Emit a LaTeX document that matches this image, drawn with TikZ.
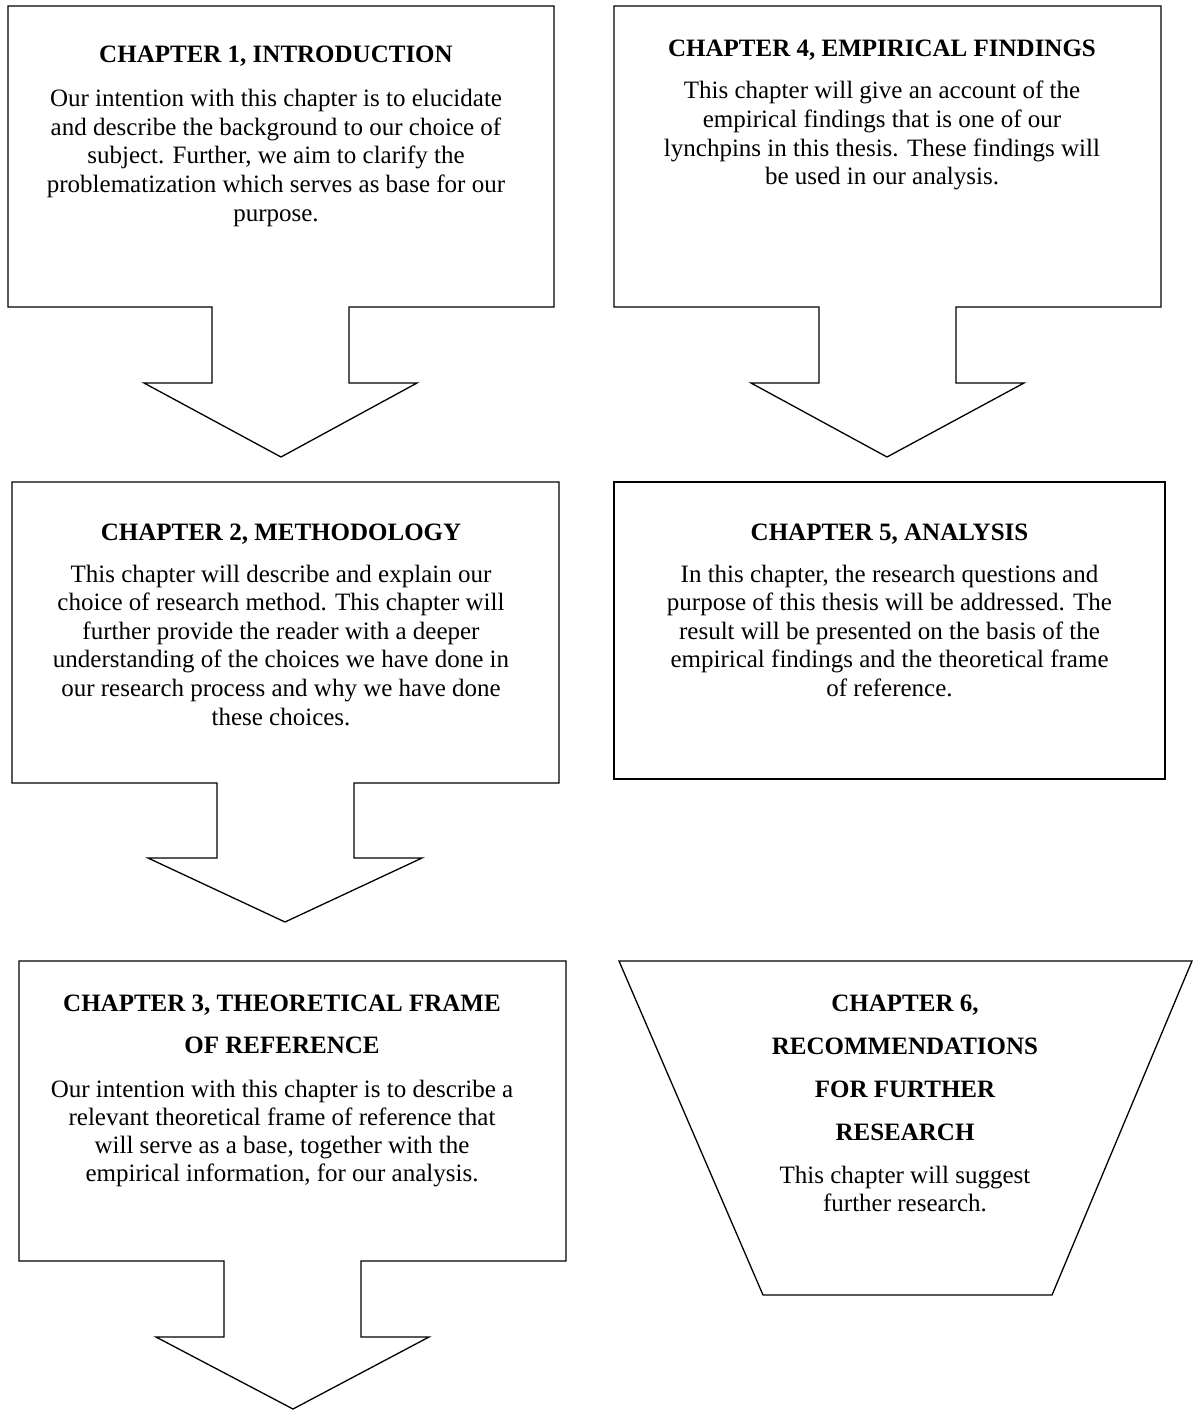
\documentclass[tikz,border=0pt]{standalone}
\usepackage{fontspec}
\setmainfont{Liberation Serif}
\begin{document}
\begin{tikzpicture}[x=1pt,y=-1pt,
  outline/.style={draw=black,line width=1.3pt,line join=miter},
  ttl/.style={anchor=base,inner sep=0pt,font=\fontsize{25}{30}\selectfont\bfseries},
  bdy/.style={anchor=base,inner sep=0pt,font=\fontsize{25}{30}\selectfont}]
\useasboundingbox (0,0) rectangle (1193,1410);

% Chapter 1 callout
\draw[outline] (8,6) -- (554,6) -- (554,307) -- (349,307) -- (349,383) -- (417,383)
  -- (281,457) -- (144,383) -- (212,383) -- (212,307) -- (8,307) -- cycle;
% Chapter 4 callout
\draw[outline] (614,6) -- (1161,6) -- (1161,307) -- (956,307) -- (956,383) -- (1024,383)
  -- (887,457) -- (751,383) -- (819,383) -- (819,307) -- (614,307) -- cycle;
% Chapter 2 callout
\draw[outline] (12,482) -- (559,482) -- (559,783) -- (354,783) -- (354,858) -- (422,858)
  -- (285,922) -- (148,858) -- (217,858) -- (217,783) -- (12,783) -- cycle;
% Chapter 5 box
\draw[outline] (614,482) rectangle (1165,779);
% Chapter 3 callout
\draw[outline] (19,961) -- (566,961) -- (566,1261) -- (361,1261) -- (361,1337) -- (429,1337)
  -- (293,1409) -- (156,1337) -- (224,1337) -- (224,1261) -- (19,1261) -- cycle;
% Chapter 6 trapezoid
\draw[outline] (619,961) -- (1192,961) -- (1052,1295) -- (763,1295) -- cycle;

% Chapter 1 text
\node[ttl] (t1) at (276,63) {CHAPTER 1, INTRODUCTION};
\foreach \txt [count=\i] in {{Our intention with this chapter is to elucidate},
  {and describe the background to our choice of},
  {subject. Further, we aim to clarify the},
  {problematization which serves as base for our},
  {purpose.}}
  \node[bdy] (b1-\i) at (276,{107+(\i-1)*28.5}) {\txt};

% Chapter 4 text
\node[ttl] (t4) at (882,57) {CHAPTER 4, EMPIRICAL FINDINGS};
\foreach \txt [count=\i] in {{This chapter will give an account of the},
  {empirical findings that is one of our},
  {lynchpins in this thesis. These findings will},
  {be used in our analysis.}}
  \node[bdy] (b4-\i) at (882,{98.5+(\i-1)*28.8}) {\txt};

% Chapter 2 text
\node[ttl] (t2) at (281,540) {CHAPTER 2, METHODOLOGY};
\foreach \txt [count=\i] in {{This chapter will describe and explain our},
  {choice of research method. This chapter will},
  {further provide the reader with a deeper},
  {understanding of the choices we have done in},
  {our research process and why we have done},
  {these choices.}}
  \node[bdy] (b2-\i) at (281,{582+(\i-1)*28.6}) {\txt};

% Chapter 5 text
\node[ttl] (t5) at (889.5,540) {CHAPTER 5, ANALYSIS};
\foreach \txt [count=\i] in {{In this chapter, the research questions and},
  {purpose of this thesis will be addressed. The},
  {result will be presented on the basis of the},
  {empirical findings and the theoretical frame},
  {of reference.}}
  \node[bdy] (b5-\i) at (889.5,{582+(\i-1)*28.6}) {\txt};

% Chapter 3 text
\foreach \txt [count=\i] in {{CHAPTER 3, THEORETICAL FRAME},{OF REFERENCE}}
  \node[ttl] (t3-\i) at (282,{1011+(\i-1)*42.5}) {\txt};
\foreach \txt [count=\i] in {{Our intention with this chapter is to describe a},
  {relevant theoretical frame of reference that},
  {will serve as a base, together with the},
  {empirical information, for our analysis.}}
  \node[bdy] (b3-\i) at (282,{1097+(\i-1)*28.3}) {\txt};

% Chapter 6 text
\foreach \txt [count=\i] in {{CHAPTER 6,},{RECOMMENDATIONS},{FOR FURTHER},{RESEARCH}}
  \node[ttl] (t6-\i) at (905,{1011+(\i-1)*43.2}) {\txt};
\foreach \txt [count=\i] in {{This chapter will suggest},{further research.}}
  \node[bdy] (b6-\i) at (905,{1183.3+(\i-1)*28.4}) {\txt};
\end{tikzpicture}
\end{document}
